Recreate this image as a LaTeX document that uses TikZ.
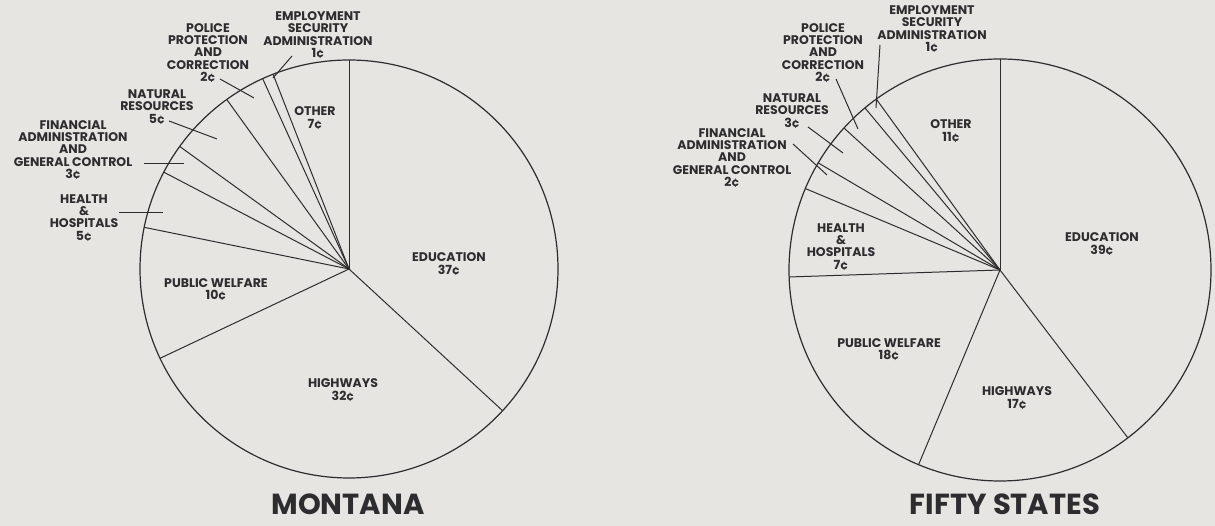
\documentclass[tikz,border=0pt]{standalone}
\usepackage{fontspec}
\setmainfont{Poppins}
\usetikzlibrary{calc}
\definecolor{paper}{RGB}{231,229,225}
\definecolor{ink}{RGB}{45,45,48}
\tikzset{
  every picture/.style = {
    x = 1pt,
    y = 1pt,
    color = ink
  }
  ,
  pie/.style = {
    draw = ink,
    line width = 1.2pt
  }
  ,
  spoke/.style = {
    draw = ink,
    line width = 1pt
  }
  , % leader lines from labels into slices
  leader/.style = {
    draw = ink,
    line width = 1pt
  }
  , % labels of slices
  label-slice/.style = {
    align = center,
    inner sep = 0pt,
    font = \bfseries\fontsize{12.5}{12.2}\selectfont
  }
  ,
  label-title/.style = {
    inner sep = 0pt,
    anchor = base,
    text depth = 0pt,
    font = \bfseries\fontsize{29}{29}\selectfont
  }
}
\begin{document}
\begin{tikzpicture}
\fill[paper] (0,0) rectangle (1215,526);
\useasboundingbox (0,0) rectangle (1215,526);

% Montana
\coordinate (mc) at (349,257);
\draw[pie] (mc) circle [radius=209];
\foreach \a in {90,-42.7,-154.7,168.5,152.4,144.1,125.8,114.4,111.3}
  \draw[spoke] (mc) -- ++(\a:209);

\node[label-slice] (m-edu) at (449,262) {EDUCATION\\37¢};
\node[label-slice] (m-hwy) at (343,136) {HIGHWAYS\\32¢};
\node[label-slice] (m-wel) at (216,236) {PUBLIC WELFARE\\10¢};
\node[label-slice] (m-oth) at (315,408) {OTHER\\7¢};
\node[label-slice] (m-hea) at (84,308) {HEALTH\\\&\\HOSPITALS\\5¢};
\node[label-slice] (m-fin) at (73,376) {FINANCIAL\\ADMINISTRATION\\AND\\GENERAL CONTROL\\3¢};
\node[label-slice] (m-nat) at (157,419) {NATURAL\\RESOURCES\\5¢};
\node[label-slice] (m-pol) at (208,473) {POLICE\\PROTECTION\\AND\\CORRECTION\\2¢};
\node[label-slice] (m-emp) at (318,491) {EMPLOYMENT\\SECURITY\\ADMINISTRATION\\1¢};
\node[label-title] (m-title) at (348,11) {MONTANA};

\coordinate (m-hea-a) at (119,313);
\coordinate (m-hea-b) at (163,313);
\coordinate (m-fin-a) at (144,362);
\coordinate (m-fin-b) at (184,362);
\coordinate (m-nat-a) at (169,405);
\coordinate (m-nat-b) at (217,387);
\coordinate (m-pol-a) at (220,447);
\coordinate (m-pol-b) at (254,428);
\coordinate (m-emp-a) at (292,470);
\coordinate (m-emp-b) at (273,448);
\draw[leader] (m-hea-a) -- (m-hea-b);
\draw[leader] (m-fin-a) -- (m-fin-b);
\draw[leader] (m-nat-a) -- (m-nat-b);
\draw[leader] (m-pol-a) -- (m-pol-b);
\draw[leader] (m-emp-a) -- (m-emp-b);

% Fifty states
\coordinate (fc) at (1000,256);
\draw[pie] (fc) circle [radius=211];
\foreach \a in {90,-52.7,-112.7,-178.1,157.3,149.5,137.7,129.8,125.9}
  \draw[spoke] (fc) -- ++(\a:211);

\node[label-slice] (f-edu) at (1102,282) {EDUCATION\\39¢};
\node[label-slice] (f-hwy) at (1017,128) {HIGHWAYS\\17¢};
\node[label-slice] (f-wel) at (889,176) {PUBLIC WELFARE\\18¢};
\node[label-slice] (f-oth) at (951,395) {OTHER\\11¢};
\node[label-slice] (f-hea) at (841,279) {HEALTH\\\&\\HOSPITALS\\7¢};
\node[label-slice] (f-fin) at (732,368) {FINANCIAL\\ADMINISTRATION\\AND\\GENERAL CONTROL\\2¢};
\node[label-slice] (f-nat) at (792,415) {NATURAL\\RESOURCES\\3¢};
\node[label-slice] (f-pol) at (823,473) {POLICE\\PROTECTION\\AND\\CORRECTION\\2¢};
\node[label-slice] (f-emp) at (932,497) {EMPLOYMENT\\SECURITY\\ADMINISTRATION\\1¢};
\node[label-title] (f-title) at (1005,11) {FIFTY STATES};

\coordinate (f-fin-a) at (793,382);
\coordinate (f-fin-b) at (827,351);
\coordinate (f-nat-a) at (808,399);
\coordinate (f-nat-b) at (843,373);
\coordinate (f-pol-a) at (836,447);
\coordinate (f-pol-b) at (858,397);
\coordinate (f-emp-a) at (880,481);
\coordinate (f-emp-b) at (876,418);
\draw[leader] (f-fin-a) -- (f-fin-b);
\draw[leader] (f-nat-a) -- (f-nat-b);
\draw[leader] (f-pol-a) -- (f-pol-b);
\draw[leader] (f-emp-a) -- (f-emp-b);
\end{tikzpicture}
\end{document}
